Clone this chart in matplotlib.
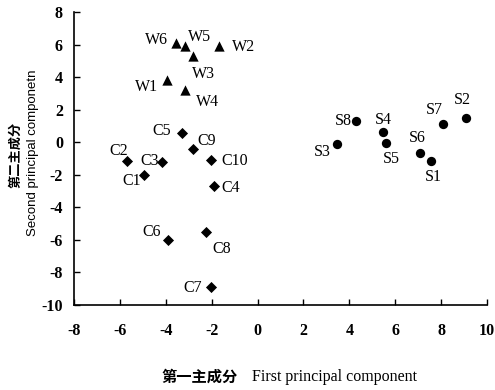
import matplotlib
matplotlib.use("Agg")
import matplotlib.pyplot as plt

# Data
w_labels = ["W1", "W2", "W3", "W4", "W5", "W6"]
w_x = [-3.95, -1.7, -2.8, -3.15, -3.15, -3.55]
w_y = [3.8, 5.9, 5.3, 3.2, 5.9, 6.1]

c_labels = ["C1", "C2", "C3", "C4", "C5", "C6", "C7", "C8", "C9", "C10"]
c_x = [-4.95, -5.7, -4.15, -1.9, -3.3, -3.9, -2.05, -2.25, -2.8, -2.05]
c_y = [-2.0, -1.15, -1.2, -2.7, 0.55, -6.0, -8.9, -5.5, -0.4, -1.1]

s_labels = ["S1", "S2", "S3", "S4", "S5", "S6", "S7", "S8"]
s_x = [7.55, 9.1, 3.48, 5.45, 5.58, 7.1, 8.07, 4.27]
s_y = [-1.15, 1.5, -0.12, 0.6, -0.06, -0.67, 1.15, 1.28]

x_ticks = [-8, -6, -4, -2, 0, 2, 4, 6, 8, 10]
y_ticks = [-10, -8, -6, -4, -2, 0, 2, 4, 6, 8]

# label offsets (pixels), style only
w_off = {"W1": (-20, -7), "W2": (25, -1), "W3": (10, -18), "W4": (22, -12),
         "W5": (14, 9), "W6": (-20, 3)}
c_off = {"C1": (-12, -6), "C2": (-8, 10), "C3": (-13, 1), "C4": (17, -2),
         "C5": (-20, 2), "C6": (-16, 8), "C7": (-18, -1), "C8": (16, -17),
         "C9": (13, 8), "C10": (24, -1)}
s_off = {"S1": (3, -16), "S2": (-4, 18), "S3": (-15, -8), "S4": (1, 12),
         "S5": (6, -16), "S6": (-3, 15), "S7": (-8, 14), "S8": (-12, 0)}

serif = ["Liberation Serif", "DejaVu Serif"]

fig = plt.figure(figsize=(4.95, 3.9), dpi=100)
ax = fig.add_axes([74/495, 1-305/390, (487-74)/495, (305-12)/390])

ax.scatter(w_x, w_y, marker="^", s=55, color="black", zorder=3, linewidths=0)
ax.scatter(c_x, c_y, marker="D", s=32, color="black", zorder=3, linewidths=0)
ax.scatter(s_x, s_y, marker="o", s=45, color="black", zorder=3, linewidths=0)

for labels, xs, ys, off in [(w_labels, w_x, w_y, w_off),
                            (c_labels, c_x, c_y, c_off),
                            (s_labels, s_x, s_y, s_off)]:
    for lab, x, y in zip(labels, xs, ys):
        ax.annotate(lab, (x, y), xytext=off[lab], textcoords="offset pixels",
                    ha="center", va="center", fontsize=11.5, family=serif)

ax.set_xlim(-8, 10)
ax.set_ylim(-10, 8)
ax.set_xticks(x_ticks)
ax.set_yticks(y_ticks)
ax.set_xticklabels([str(t) for t in x_ticks], family=serif, fontweight="bold", fontsize=11.5)
ax.set_yticklabels([str(t) for t in y_ticks], family=serif, fontweight="bold", fontsize=11.5)
ax.tick_params(axis="both", direction="in", length=4, width=1, colors="black")
ax.tick_params(axis="x", pad=13)
ax.tick_params(axis="y", pad=8)
for sp in ["top", "right"]:
    ax.spines[sp].set_visible(False)
for sp in ["left", "bottom"]:
    ax.spines[sp].set_linewidth(1.2)

# x label
fig.text(238/495, 1-377/390, "第一主成分", ha="right", va="center",
         family=["Noto Sans CJK SC", "DejaVu Sans"], fontweight="bold", fontsize=11)
fig.text(252/495, 1-377/390, "First principal component", ha="left", va="center",
         family=serif, fontsize=11.5)

# y label
fig.text(15/495, 1-155/390, "第二主成分", ha="center", va="center", rotation=90,
         family=["Noto Sans CJK SC", "DejaVu Sans"], fontweight="bold", fontsize=9.5)
fig.text(33/495, 1-153/390, "Second principal componetn", ha="center", va="center",
         rotation=90, family=["Liberation Sans", "DejaVu Sans"], fontsize=9.5)

fig.savefig("out.png", dpi=100)
